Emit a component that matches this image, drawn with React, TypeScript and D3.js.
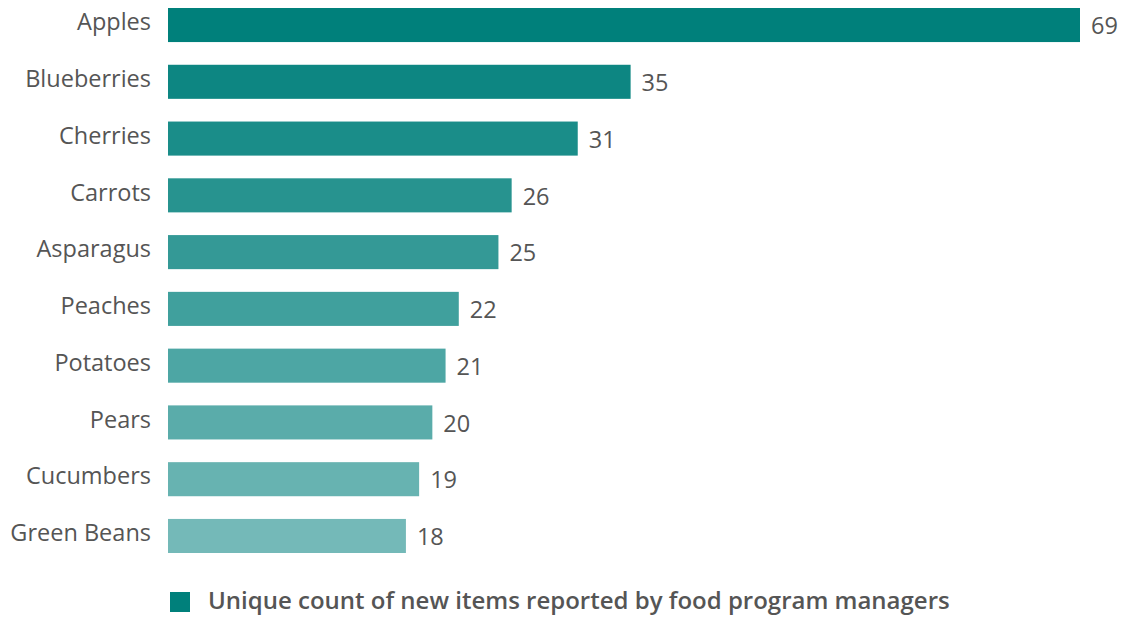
import React from "react";
import * as d3 from "d3";

const categories = ["Apples", "Blueberries", "Cherries", "Carrots", "Asparagus", "Peaches", "Potatoes", "Pears", "Cucumbers", "Green Beans"];
const values = [69, 35, 31, 26, 25, 22, 21, 20, 19, 18];
const seriesName = "Unique count of new items reported by food program managers";

export default function App() {
  const width = 1126;
  const height = 618;
  const x = d3.scaleLinear().domain([0, 69]).range([168, 1080]);
  const y = d3.scaleBand<string>().domain(categories).range([8, 553]).paddingInner(0.4).paddingOuter(0);
  const color = d3.interpolateRgb("#00807b", "#74b9b8");
  const font = "'Open Sans', sans-serif";
  return (
    <svg width={width} height={height} style={{ position: "absolute", left: 0, top: 0, background: "#fff" }}>
      {categories.map((c, i) => {
        const y0 = y(c)!;
        const bw = y.bandwidth();
        return (
          <g key={c}>
            <rect x={x(0)} y={y0} width={x(values[i]) - x(0)} height={bw} fill={color(i / (categories.length - 1))} />
            <text x={151} y={y0 + bw / 2 - 1} textAnchor="end" dominantBaseline="middle" fontFamily={font} fontSize={23.5} fill="#555">{c}</text>
            <text x={x(values[i]) + 11} y={y0 + bw / 2 + 3} dominantBaseline="middle" fontFamily={font} fontSize={23.5} fill="#555">{values[i]}</text>
          </g>
        );
      })}
      <rect x={170} y={592} width={20} height={20} fill="#00807b" />
      <text x={208} y={603} dominantBaseline="middle" fontFamily={font} fontSize={24} fontWeight={600} fill="#555">{seriesName}</text>
    </svg>
  );
}
